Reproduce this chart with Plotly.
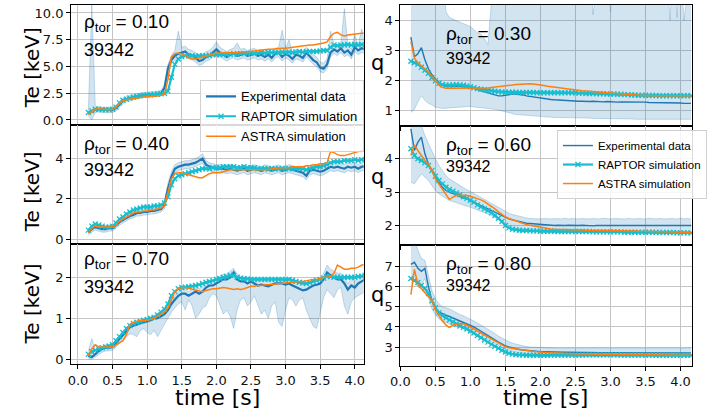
import plotly.graph_objects as go

# ---------------- data ----------------
time_s = [0.15, 0.2, 0.25, 0.3, 0.35, 0.4, 0.45, 0.5, 0.55, 0.6,
          0.65, 0.7, 0.75, 0.8, 0.85, 0.9, 0.95, 1.0, 1.05, 1.1,
          1.15, 1.2, 1.25, 1.3, 1.35, 1.4, 1.45, 1.5, 1.55, 1.6,
          1.65, 1.7, 1.75, 1.8, 1.85, 1.9, 1.95, 2.0, 2.05, 2.1,
          2.15, 2.2, 2.25, 2.3, 2.35, 2.4, 2.45, 2.5, 2.55, 2.6,
          2.65, 2.7, 2.75, 2.8, 2.85, 2.9, 2.95, 3.0, 3.05, 3.1,
          3.15, 3.2, 3.25, 3.3, 3.35, 3.4, 3.45, 3.5, 3.55, 3.6,
          3.65, 3.7, 3.75, 3.8, 3.85, 3.9, 3.95, 4.0, 4.05, 4.1,
          4.15]

# Te at rho_tor = 0.10 [keV]
te010_exp = [0.6, 0.75, 0.95, 1.0, 0.95, 0.95, 0.95, 0.95, 1.1, 1.5,
             1.8, 1.95, 2.0, 2.1, 2.2, 2.3, 2.35, 2.35, 2.4, 2.4,
             2.45, 2.5, 3.0, 4.8, 5.6, 6.0, 6.2, 6.3, 6.4, 6.1,
             6.0, 5.8, 5.5, 5.6, 5.9, 6.0, 6.3, 6.6, 6.3, 6.1,
             5.9, 6.1, 6.2, 6.0, 6.1, 6.2, 6.0, 6.1, 6.2, 6.0,
             6.1, 5.9, 6.1, 5.8, 6.2, 6.3, 5.9, 6.2, 6.0, 5.7,
             6.1, 6.0, 5.8, 6.3, 5.9, 5.6, 5.4, 4.9, 4.8, 5.2,
             6.3, 6.6, 6.4, 6.7, 6.3, 6.5, 6.1, 6.8, 6.5, 6.7,
             6.6]
te010_lo = [0.35, 0.0, 0.7, 0.75, 0.7, 0.7, 0.7, 0.7, 0.85, 1.25,
            1.55, 1.7, 1.8, 1.9, 2.0, 2.1, 2.15, 2.15, 2.2, 2.2,
            2.25, 2.3, 2.7, 4.3, 5.2, 5.6, 5.8, 5.9, 6.0, 5.7,
            5.6, 5.4, 5.1, 5.2, 5.5, 5.6, 5.9, 6.1, 5.9, 5.7,
            5.5, 5.7, 5.8, 5.6, 5.7, 5.8, 5.6, 5.7, 5.8, 5.6,
            5.7, 5.5, 5.7, 5.4, 5.8, 5.9, 5.5, 5.8, 5.6, 5.3,
            5.7, 5.6, 5.4, 5.9, 5.5, 5.2, 5.0, 4.5, 4.4, 4.8,
            5.9, 6.2, 6.0, 6.3, 5.9, 6.1, 5.7, 6.4, 6.1, 6.3,
            6.2]
te010_hi = [0.9, 10.8, 1.2, 1.25, 1.2, 1.2, 1.2, 1.2, 1.35, 1.75,
            2.05, 2.2, 2.25, 2.35, 2.45, 2.55, 2.6, 2.6, 2.65, 2.65,
            2.7, 2.75, 3.3, 5.2, 6.0, 6.5, 8.3, 6.8, 6.9, 6.6,
            6.5, 6.3, 6.0, 6.1, 6.4, 6.5, 6.8, 7.3, 6.8, 6.6,
            6.4, 6.6, 6.7, 7.2, 6.6, 6.7, 6.5, 6.6, 6.7, 6.5,
            6.6, 6.4, 6.6, 6.3, 6.7, 6.8, 8.4, 6.7, 7.5, 6.2,
            6.6, 6.5, 6.3, 6.8, 6.4, 6.1, 5.9, 5.4, 5.3, 5.7,
            8.3, 7.1, 6.9, 7.2, 10.4, 7.0, 6.6, 8.0, 7.0, 8.5,
            7.1]
te010_raptor = [0.7, 0.85, 1.0, 1.0, 0.95, 0.95, 0.95, 1.0, 1.2, 1.6,
                1.85, 1.95, 2.05, 2.15, 2.2, 2.25, 2.3, 2.35, 2.35, 2.4,
                2.4, 2.45, 2.5, 2.7, 4.0, 5.2, 5.7, 5.9, 6.0, 6.0,
                6.0, 5.95, 6.0, 6.0, 6.0, 6.05, 6.1, 6.1, 6.1, 6.15,
                6.1, 6.15, 6.2, 6.15, 6.2, 6.2, 6.2, 6.25, 6.2, 6.25,
                6.3, 6.25, 6.3, 6.3, 6.3, 6.3, 6.35, 6.3, 6.35, 6.3,
                6.35, 6.4, 6.35, 6.4, 6.4, 6.4, 6.4, 6.45, 6.5, 6.5,
                6.8, 7.0, 6.95, 7.0, 7.0, 7.05, 7.0, 7.05, 7.0, 7.05,
                7.0]
te010_astra = [0.5, 0.75, 1.0, 1.05, 1.0, 0.95, 0.95, 1.0, 1.2, 1.55,
               1.8, 1.9, 1.95, 2.05, 2.1, 2.15, 2.15, 2.2, 2.2, 2.2,
               2.25, 2.3, 2.4, 3.8, 5.9, 6.2, 6.25, 6.2, 6.0, 5.8,
               5.7, 5.7, 5.8, 5.9, 6.0, 6.1, 6.2, 6.25, 6.25, 6.25,
               6.25, 6.25, 6.3, 6.3, 6.35, 6.35, 6.4, 6.4, 6.45, 6.5,
               6.5, 6.55, 6.6, 6.6, 6.65, 6.65, 6.7, 6.7, 6.75, 6.8,
               6.85, 6.9, 6.9, 6.95, 7.0, 7.0, 7.05, 7.1, 7.2, 7.3,
               7.8, 8.1, 8.2, 7.95, 7.85, 7.95, 8.0, 8.05, 8.05, 8.1,
               8.1]

# Te at rho_tor = 0.40 [keV]
te040_exp = [0.35, 0.5, 0.6, 0.55, 0.5, 0.5, 0.55, 0.55, 0.7, 0.85,
             0.95, 1.05, 1.15, 1.2, 1.3, 1.3, 1.35, 1.35, 1.4, 1.4,
             1.45, 1.5, 1.7, 2.5, 3.1, 3.5, 3.6, 3.65, 3.7, 3.7,
             3.75, 3.8, 3.9, 4.0, 3.7, 3.6, 3.55, 3.5, 3.5, 3.5,
             3.45, 3.5, 3.45, 3.4, 3.45, 3.5, 3.4, 3.45, 3.5, 3.45,
             3.4, 3.5, 3.45, 3.4, 3.45, 3.5, 3.4, 3.45, 3.5, 3.45,
             3.4, 3.35, 3.3, 3.15, 3.4, 3.45, 3.4, 3.35, 3.4, 3.5,
             3.6, 3.55, 3.6, 3.55, 3.5, 3.6, 3.55, 3.6, 3.5, 3.6,
             3.6]
te040_lo = [0.2, 0.35, 0.45, 0.4, 0.35, 0.35, 0.4, 0.4, 0.55, 0.7,
            0.8, 0.9, 1.0, 1.05, 1.15, 1.15, 1.2, 1.2, 1.25, 1.25,
            1.3, 1.35, 1.5, 2.2, 2.85, 3.3, 3.4, 3.45, 3.5, 3.5,
            3.55, 3.6, 3.7, 3.75, 3.5, 3.4, 3.35, 3.3, 3.3, 3.3,
            3.25, 3.3, 3.25, 3.2, 3.25, 3.3, 3.2, 3.25, 3.3, 3.25,
            3.2, 3.3, 3.25, 3.2, 3.25, 3.3, 3.2, 3.25, 3.3, 3.25,
            3.2, 3.15, 3.1, 2.95, 3.2, 3.25, 3.2, 3.15, 3.2, 3.3,
            3.4, 3.35, 3.4, 3.35, 3.3, 3.4, 3.35, 3.4, 3.3, 3.4,
            3.4]
te040_hi = [0.5, 0.65, 0.75, 0.7, 0.65, 0.65, 0.7, 0.7, 0.85, 1.0,
            1.1, 1.2, 1.3, 1.35, 1.45, 1.45, 1.5, 1.5, 1.55, 1.55,
            1.6, 1.65, 1.9, 2.8, 3.35, 3.7, 3.8, 3.85, 3.9, 3.9,
            3.95, 4.0, 4.1, 4.25, 3.9, 3.8, 3.75, 3.7, 3.7, 3.7,
            3.65, 3.7, 3.65, 3.6, 3.65, 3.7, 3.6, 3.65, 3.7, 3.65,
            3.6, 3.7, 3.65, 3.6, 3.65, 3.7, 3.6, 3.65, 3.7, 3.65,
            3.6, 3.55, 3.5, 3.35, 3.6, 3.65, 3.6, 3.55, 3.6, 3.7,
            3.8, 3.75, 3.8, 3.75, 3.7, 3.8, 3.75, 3.8, 3.7, 3.8,
            3.8]
te040_raptor = [0.45, 0.65, 0.75, 0.7, 0.65, 0.6, 0.6, 0.65, 0.8, 1.0,
                1.1, 1.25, 1.35, 1.45, 1.5, 1.55, 1.6, 1.6, 1.6, 1.65,
                1.65, 1.7, 1.8, 2.1, 2.7, 3.0, 3.15, 3.2, 3.25, 3.3,
                3.35, 3.4, 3.45, 3.5, 3.5, 3.5, 3.55, 3.55, 3.55, 3.6,
                3.6, 3.6, 3.6, 3.55, 3.55, 3.6, 3.55, 3.55, 3.55, 3.5,
                3.5, 3.5, 3.5, 3.5, 3.5, 3.5, 3.5, 3.5, 3.5, 3.5,
                3.5, 3.5, 3.5, 3.45, 3.5, 3.55, 3.6, 3.6, 3.65, 3.7,
                3.8, 3.85, 3.85, 3.85, 3.9, 3.9, 3.9, 3.95, 3.9, 3.95,
                3.95]
te040_astra = [0.3, 0.55, 0.65, 0.6, 0.6, 0.6, 0.6, 0.6, 0.7, 0.9,
               1.0, 1.1, 1.2, 1.3, 1.35, 1.35, 1.4, 1.4, 1.45, 1.45,
               1.5, 1.55, 1.65, 2.4, 3.0, 3.25, 3.3, 3.3, 3.25, 3.2,
               3.15, 3.1, 3.05, 3.05, 3.15, 3.25, 3.3, 3.3, 3.3, 3.35,
               3.4, 3.45, 3.45, 3.45, 3.45, 3.45, 3.45, 3.45, 3.45, 3.45,
               3.45, 3.45, 3.45, 3.5, 3.5, 3.55, 3.55, 3.55, 3.55, 3.6,
               3.6, 3.6, 3.6, 3.65, 3.65, 3.7, 3.7, 3.75, 3.75, 3.8,
               4.35, 4.3, 4.2, 4.15, 4.15, 4.2, 4.25, 4.3, 4.35, 4.4,
               4.4]

# Te at rho_tor = 0.70 [keV]
te070_exp = [0.08, 0.05, 0.12, 0.2, 0.25, 0.28, 0.28, 0.3, 0.4, 0.5,
             0.6, 0.7, 0.78, 0.82, 0.85, 0.88, 0.9, 0.92, 0.95, 1.0,
             1.0, 1.05, 1.1, 1.2, 1.35, 1.45, 1.55, 1.6, 1.6, 1.55,
             1.6, 1.65, 1.6, 1.65, 1.75, 1.8, 1.8, 1.85, 1.9, 1.95,
             1.95, 2.0, 2.12, 1.95, 1.9, 1.9, 1.85, 1.9, 1.85, 1.8,
             1.82, 1.8, 1.78, 1.82, 1.85, 1.85, 1.85, 1.82, 1.85, 1.8,
             1.75, 1.72, 1.68, 1.7, 1.75, 1.8, 1.82, 1.85, 1.95, 2.12,
             2.05, 2.0, 1.95, 1.95, 1.85, 1.7, 1.8, 1.75, 1.85, 1.9,
             1.95]
te070_lo = [0.0, 0.0, 0.05, 0.12, 0.17, 0.2, 0.2, 0.22, 0.3, 0.38,
            0.45, 0.55, 0.62, 0.6, 0.55, 0.7, 0.75, 0.65, 0.6, 0.7,
            0.55, 0.7, 0.85, 1.0, 1.15, 1.25, 1.35, 1.4, 1.2, 1.45,
            1.3, 1.0, 1.1, 1.25, 1.3, 1.5, 1.6, 1.55, 1.3, 1.1,
            1.2, 1.05, 0.75, 1.2, 1.45, 1.5, 1.3, 1.4, 1.55, 1.3,
            1.1, 1.2, 1.0, 1.3, 1.4, 0.9, 0.8, 1.2, 1.5, 1.45,
            1.3, 1.45, 1.5, 1.2, 1.0, 0.8, 0.75, 1.1, 1.5, 1.7,
            1.6, 1.5, 1.7, 1.75, 1.3, 1.1, 1.4, 1.5, 1.55, 1.6,
            1.65]
te070_hi = [0.2, 0.5, 0.2, 0.28, 0.32, 0.35, 0.36, 0.38, 0.48, 0.58,
            0.68, 0.78, 0.86, 0.9, 0.93, 0.96, 0.98, 1.0, 1.03, 1.08,
            1.08, 1.13, 1.18, 1.28, 1.45, 1.55, 1.65, 1.7, 1.7, 1.65,
            1.7, 1.75, 1.72, 1.78, 1.85, 1.92, 1.92, 1.97, 2.02, 2.08,
            2.08, 2.15, 2.22, 2.08, 2.02, 2.0, 1.96, 2.0, 1.95, 1.92,
            1.95, 1.92, 1.9, 1.95, 1.97, 1.97, 1.96, 1.95, 1.97, 1.92,
            1.88, 1.85, 1.82, 1.85, 1.88, 1.92, 1.95, 1.98, 2.1, 2.3,
            2.2, 2.15, 2.1, 2.1, 2.0, 1.85, 1.95, 1.9, 2.0, 2.05,
            2.1]
te070_raptor = [0.12, 0.18, 0.22, 0.25, 0.28, 0.3, 0.32, 0.35, 0.45, 0.55,
                0.65, 0.75, 0.82, 0.87, 0.9, 0.92, 0.95, 0.97, 1.0, 1.02,
                1.08, 1.15, 1.22, 1.35, 1.55, 1.65, 1.72, 1.75, 1.76, 1.77,
                1.78, 1.8, 1.82, 1.85, 1.88, 1.9, 1.92, 1.95, 1.97, 2.0,
                2.02, 2.05, 2.05, 2.0, 1.98, 1.97, 1.96, 1.95, 1.95, 1.95,
                1.95, 1.95, 1.95, 1.95, 1.95, 1.95, 1.95, 1.95, 1.95, 1.93,
                1.9, 1.88, 1.86, 1.85, 1.87, 1.9, 1.93, 1.95, 1.98, 2.02,
                2.02, 2.0, 2.0, 2.0, 2.0, 2.0, 2.0, 2.0, 2.02, 2.03,
                2.05]
te070_astra = [0.1, 0.25, 0.35, 0.3, 0.29, 0.29, 0.29, 0.3, 0.35, 0.4,
               0.45, 0.6, 0.85, 0.9, 0.93, 0.95, 0.95, 0.95, 0.97, 1.0,
               1.05, 1.1, 1.15, 1.25, 1.45, 1.65, 1.72, 1.75, 1.75, 1.73,
               1.72, 1.7, 1.67, 1.65, 1.68, 1.7, 1.72, 1.72, 1.74, 1.75,
               1.74, 1.72, 1.7, 1.72, 1.7, 1.72, 1.75, 1.78, 1.78, 1.8,
               1.8, 1.82, 1.82, 1.83, 1.83, 1.85, 1.85, 1.87, 1.88, 1.88,
               1.9, 1.9, 1.9, 1.92, 1.93, 1.95, 1.95, 1.97, 2.0, 2.0,
               2.02, 2.1, 2.3, 2.25, 2.2, 2.2, 2.22, 2.22, 2.25, 2.3,
               2.3]

# q at rho_tor = 0.30
q030_exp = [3.45, 2.8, 2.9, 3.1, 2.7, 2.4, 2.2, 2.05, 1.95, 1.85,
            1.82, 1.82, 1.83, 1.83, 1.82, 1.8, 1.8, 1.78, 1.75, 1.7,
            1.67, 1.63, 1.6, 1.57, 1.53, 1.5, 1.5, 1.52, 1.55, 1.56,
            1.56, 1.55, 1.53, 1.5, 1.48, 1.46, 1.45, 1.43, 1.42, 1.4,
            1.38, 1.37, 1.36, 1.35, 1.34, 1.34, 1.33, 1.33, 1.32, 1.32,
            1.31, 1.31, 1.32, 1.31, 1.3, 1.3, 1.31, 1.3, 1.3, 1.29,
            1.3, 1.3, 1.31, 1.3, 1.29, 1.3, 1.3, 1.29, 1.28, 1.28,
            1.28, 1.27, 1.28, 1.27, 1.26, 1.26, 1.27, 1.26, 1.25, 1.25,
            1.25]
q030_lo = [0.95, 1.05, 1.3, 1.5, 1.35, 1.25, 1.2, 1.12, 1.1, 1.08,
           1.09, 1.1, 1.11, 1.12, 1.13, 1.15, 1.15, 1.15, 1.13, 1.12,
           1.11, 1.1, 1.08, 1.07, 1.05, 1.03, 1.0, 0.97, 0.93, 0.9,
           0.88, 0.87, 0.86, 0.85, 0.84, 0.83, 0.82, 0.8, 0.8, 0.79,
           0.79, 0.78, 0.78, 0.78, 0.78, 0.77, 0.77, 0.77, 0.77, 0.76,
           0.76, 0.76, 0.75, 0.75, 0.75, 0.75, 0.74, 0.74, 0.74, 0.74,
           0.73, 0.73, 0.73, 0.73, 0.72, 0.72, 0.72, 0.72, 0.72, 0.72,
           0.72, 0.72, 0.72, 0.72, 0.72, 0.72, 0.72, 0.72, 0.72, 0.72,
           0.72]
q030_hi = [6.0, 6.0, 6.0, 6.0, 6.0, 6.0, 6.0, 6.0, 6.0, 6.0,
           4.3, 4.1, 4.05, 4.0, 3.95, 3.9, 3.85, 3.8, 3.7, 3.6,
           3.55, 3.4, 3.2, 6.0, 6.0, 6.0, 6.0, 6.0, 6.0, 6.0,
           6.0, 6.0, 6.0, 6.0, 6.0, 6.0, 6.0, 6.0, 6.0, 6.0,
           6.0, 6.0, 6.0, 6.0, 6.0, 6.0, 6.0, 6.0, 6.0, 6.0,
           6.0, 6.0, 4.2, 6.0, 6.0, 6.0, 6.0, 4.3, 6.0, 6.0,
           6.0, 6.0, 6.0, 6.0, 6.0, 6.0, 6.0, 6.0, 6.0, 6.0,
           6.0, 6.0, 6.0, 6.0, 4.0, 6.0, 4.1, 6.0, 4.0, 6.0,
           6.0]
q030_raptor = [2.65, 2.6, 2.55, 2.45, 2.35, 2.25, 2.1, 2.0, 1.92, 1.87,
               1.85, 1.85, 1.86, 1.87, 1.86, 1.85, 1.83, 1.8, 1.77, 1.74,
               1.72, 1.7, 1.68, 1.66, 1.65, 1.64, 1.63, 1.62, 1.62, 1.62,
               1.62, 1.61, 1.61, 1.61, 1.61, 1.61, 1.6, 1.6, 1.6, 1.6,
               1.6, 1.6, 1.6, 1.6, 1.6, 1.6, 1.6, 1.6, 1.59, 1.59,
               1.58, 1.58, 1.58, 1.57, 1.57, 1.57, 1.56, 1.56, 1.56, 1.55,
               1.55, 1.54, 1.54, 1.53, 1.53, 1.52, 1.52, 1.52, 1.51, 1.51,
               1.51, 1.5, 1.5, 1.5, 1.5, 1.5, 1.5, 1.5, 1.5, 1.5,
               1.5]
q030_astra = [3.3, 2.75, 2.6, 2.5, 2.4, 2.3, 2.15, 2.0, 1.85, 1.78,
              1.75, 1.75, 1.75, 1.75, 1.75, 1.75, 1.75, 1.75, 1.75, 1.75,
              1.75, 1.75, 1.76, 1.78, 1.79, 1.8, 1.82, 1.83, 1.85, 1.86,
              1.88, 1.89, 1.9, 1.9, 1.9, 1.89, 1.88, 1.86, 1.84, 1.82,
              1.8, 1.79, 1.77, 1.76, 1.74, 1.73, 1.71, 1.7, 1.68, 1.67,
              1.66, 1.65, 1.63, 1.62, 1.61, 1.6, 1.59, 1.58, 1.57, 1.56,
              1.56, 1.55, 1.54, 1.53, 1.53, 1.52, 1.51, 1.51, 1.5, 1.5,
              1.5, 1.5, 1.5, 1.5, 1.5, 1.5, 1.5, 1.5, 1.5, 1.5,
              1.5]

# q at rho_tor = 0.60
q060_exp = [4.9, 4.25, 4.5, 4.65, 4.15, 3.85, 3.65, 3.45, 3.3, 3.15,
            3.05, 3.0, 2.95, 2.9, 2.85, 2.82, 2.8, 2.75, 2.7, 2.65,
            2.6, 2.55, 2.5, 2.45, 2.38, 2.33, 2.28, 2.23, 2.2, 2.17,
            2.14, 2.11, 2.09, 2.07, 2.06, 2.05, 2.04, 2.03, 2.02, 2.02,
            2.01, 2.0, 2.01, 2.0, 2.0, 2.01, 2.0, 1.99, 2.0, 2.01,
            2.0, 2.0, 1.99, 2.0, 2.01, 2.0, 2.0, 1.99, 2.0, 2.0,
            2.0, 2.01, 2.0, 1.99, 2.0, 2.0, 1.99, 2.0, 2.0, 2.0,
            1.99, 2.0, 2.0, 1.99, 2.0, 2.0, 1.99, 2.0, 1.99, 2.0,
            2.0]
q060_lo = [3.3, 3.25, 3.4, 3.55, 3.45, 3.35, 3.2, 3.05, 2.95, 2.88,
           2.8, 2.75, 2.72, 2.68, 2.65, 2.62, 2.58, 2.55, 2.51, 2.48,
           2.44, 2.4, 2.35, 2.3, 2.24, 2.18, 2.12, 2.05, 2.0, 1.95,
           1.91, 1.88, 1.86, 1.84, 1.83, 1.82, 1.81, 1.81, 1.8, 1.8,
           1.8, 1.8, 1.8, 1.8, 1.8, 1.8, 1.79, 1.79, 1.79, 1.79,
           1.79, 1.79, 1.79, 1.79, 1.79, 1.79, 1.79, 1.79, 1.78, 1.78,
           1.78, 1.78, 1.78, 1.78, 1.78, 1.78, 1.78, 1.78, 1.78, 1.78,
           1.78, 1.78, 1.78, 1.78, 1.78, 1.78, 1.78, 1.78, 1.78, 1.78,
           1.78]
q060_hi = [5.5, 5.5, 5.2, 5.0, 4.7, 4.45, 4.25, 4.0, 3.8, 3.65,
           3.5, 3.4, 3.33, 3.27, 3.2, 3.13, 3.07, 3.02, 2.96, 2.9,
           2.85, 2.8, 2.74, 2.68, 2.62, 2.55, 2.48, 2.42, 2.37, 2.33,
           2.3, 2.27, 2.25, 2.23, 2.21, 2.2, 2.2, 2.2, 2.21, 2.2,
           2.2, 2.21, 2.2, 2.2, 2.22, 2.2, 2.21, 2.2, 2.2, 2.21,
           2.2, 2.2, 2.21, 2.2, 2.2, 2.22, 2.2, 2.2, 2.21, 2.2,
           2.2, 2.2, 2.21, 2.2, 2.2, 2.21, 2.2, 2.2, 2.22, 2.2,
           2.2, 2.21, 2.2, 2.2, 2.21, 2.2, 2.2, 2.22, 2.2, 2.21,
           2.2]
q060_raptor = [4.3, 4.1, 4.0, 3.95, 3.88, 3.8, 3.65, 3.48, 3.35, 3.25,
               3.15, 3.08, 3.03, 2.98, 2.92, 2.86, 2.82, 2.76, 2.7, 2.62,
               2.56, 2.5, 2.45, 2.38, 2.3, 2.22, 2.12, 2.0, 1.93, 1.89,
               1.87, 1.86, 1.85, 1.85, 1.84, 1.84, 1.84, 1.83, 1.83, 1.83,
               1.83, 1.83, 1.82, 1.82, 1.82, 1.82, 1.82, 1.82, 1.82, 1.82,
               1.82, 1.82, 1.81, 1.81, 1.81, 1.81, 1.81, 1.81, 1.81, 1.81,
               1.81, 1.8, 1.8, 1.8, 1.8, 1.8, 1.8, 1.8, 1.8, 1.8,
               1.79, 1.79, 1.79, 1.79, 1.79, 1.79, 1.78, 1.78, 1.78, 1.78,
               1.78]
q060_astra = [4.1, 4.42, 4.25, 4.1, 3.95, 3.85, 3.65, 3.4, 3.25, 3.1,
              2.95, 2.78, 2.85, 2.9, 2.91, 2.91, 2.9, 2.88, 2.85, 2.81,
              2.77, 2.72, 2.65, 2.58, 2.5, 2.41, 2.33, 2.26, 2.21, 2.17,
              2.13, 2.09, 2.06, 2.03, 2.01, 1.99, 1.96, 1.94, 1.92, 1.91,
              1.9, 1.89, 1.89, 1.88, 1.88, 1.88, 1.87, 1.87, 1.87, 1.87,
              1.86, 1.86, 1.86, 1.86, 1.86, 1.85, 1.85, 1.85, 1.85, 1.85,
              1.84, 1.84, 1.84, 1.84, 1.84, 1.83, 1.83, 1.83, 1.83, 1.82,
              1.82, 1.82, 1.82, 1.81, 1.81, 1.81, 1.81, 1.8, 1.8, 1.8,
              1.8]

# q at rho_tor = 0.80
q080_exp = [7.1, 7.2, 6.9, 6.75, 6.9, 6.0, 5.3, 4.95, 4.75, 4.65,
            4.58, 4.52, 4.45, 4.38, 4.3, 4.23, 4.17, 4.1, 4.0, 3.9,
            3.8, 3.7, 3.58, 3.47, 3.36, 3.25, 3.15, 3.07, 3.01, 2.96,
            2.92, 2.89, 2.86, 2.84, 2.82, 2.8, 2.79, 2.78, 2.78, 2.77,
            2.77, 2.76, 2.76, 2.75, 2.75, 2.75, 2.74, 2.74, 2.74, 2.74,
            2.74, 2.73, 2.73, 2.73, 2.73, 2.73, 2.73, 2.73, 2.73, 2.73,
            2.73, 2.73, 2.73, 2.73, 2.73, 2.73, 2.73, 2.73, 2.73, 2.73,
            2.72, 2.72, 2.72, 2.72, 2.72, 2.72, 2.72, 2.72, 2.72, 2.72,
            2.72]
q080_lo = [6.3, 6.3, 6.0, 6.1, 6.4, 5.5, 4.9, 4.6, 4.4, 4.3,
           4.22, 4.15, 4.1, 4.05, 3.98, 3.9, 3.85, 3.8, 3.7, 3.6,
           3.52, 3.45, 3.35, 3.25, 3.15, 3.05, 2.96, 2.88, 2.82, 2.78,
           2.75, 2.72, 2.7, 2.68, 2.66, 2.65, 2.64, 2.63, 2.62, 2.61,
           2.6, 2.6, 2.59, 2.59, 2.58, 2.58, 2.58, 2.58, 2.58, 2.57,
           2.57, 2.57, 2.57, 2.57, 2.57, 2.57, 2.57, 2.57, 2.57, 2.57,
           2.56, 2.56, 2.56, 2.56, 2.56, 2.56, 2.56, 2.56, 2.56, 2.56,
           2.55, 2.55, 2.55, 2.55, 2.55, 2.55, 2.55, 2.55, 2.55, 2.55,
           2.55]
q080_hi = [8.5, 8.3, 7.8, 7.4, 7.3, 6.5, 5.8, 5.4, 5.15, 5.0,
           4.95, 4.9, 4.8, 4.7, 4.62, 4.55, 4.48, 4.4, 4.3, 4.2,
           4.1, 4.0, 3.9, 3.8, 3.68, 3.55, 3.45, 3.35, 3.27, 3.2,
           3.15, 3.1, 3.06, 3.03, 3.01, 3.0, 2.98, 2.97, 2.97, 2.96,
           2.96, 2.96, 2.95, 2.95, 2.95, 2.95, 2.95, 2.95, 2.95, 2.95,
           2.95, 2.95, 2.95, 2.95, 2.95, 2.95, 2.95, 2.95, 2.95, 2.95,
           2.95, 2.95, 2.95, 2.95, 2.95, 2.95, 2.95, 2.95, 2.95, 2.95,
           2.95, 2.95, 2.95, 2.95, 2.95, 2.95, 2.95, 2.95, 2.95, 2.95,
           2.95]
q080_raptor = [6.4, 6.3, 6.2, 6.05, 5.9, 5.65, 5.3, 4.95, 4.7, 4.55,
               4.45, 4.35, 4.25, 4.15, 4.05, 3.98, 3.9, 3.8, 3.7, 3.58,
               3.47, 3.36, 3.25, 3.14, 3.04, 2.95, 2.85, 2.76, 2.7, 2.66,
               2.63, 2.62, 2.61, 2.6, 2.6, 2.6, 2.6, 2.6, 2.6, 2.6,
               2.61, 2.61, 2.61, 2.61, 2.61, 2.61, 2.61, 2.61, 2.61, 2.61,
               2.62, 2.62, 2.62, 2.62, 2.62, 2.62, 2.62, 2.62, 2.62, 2.62,
               2.61, 2.61, 2.61, 2.61, 2.61, 2.61, 2.61, 2.61, 2.61, 2.61,
               2.6, 2.6, 2.6, 2.6, 2.6, 2.6, 2.6, 2.6, 2.6, 2.6,
               2.6]
q080_astra = [5.6, 6.85, 6.1, 5.9, 5.75, 5.5, 5.3, 4.85, 4.55, 4.3,
              4.1, 3.97, 4.1, 4.15, 4.17, 4.16, 4.1, 4.0, 3.9, 3.8,
              3.72, 3.62, 3.5, 3.4, 3.3, 3.2, 3.1, 3.02, 2.97, 2.94,
              2.91, 2.88, 2.85, 2.83, 2.81, 2.79, 2.77, 2.75, 2.74, 2.73,
              2.72, 2.71, 2.7, 2.69, 2.68, 2.67, 2.67, 2.66, 2.66, 2.66,
              2.66, 2.65, 2.65, 2.65, 2.65, 2.65, 2.65, 2.65, 2.65, 2.65,
              2.65, 2.65, 2.65, 2.65, 2.65, 2.65, 2.65, 2.65, 2.65, 2.65,
              2.64, 2.63, 2.63, 2.62, 2.62, 2.61, 2.61, 2.6, 2.6, 2.6,
              2.6]

x_tick_vals = [0.0, 0.5, 1.0, 1.5, 2.0, 2.5, 3.0, 3.5, 4.0]
x_tick_text = ["0.0", "0.5", "1.0", "1.5", "2.0", "2.5", "3.0", "3.5", "4.0"]
panel_labels = ["0.10", "0.40", "0.70", "0.30", "0.60", "0.80"]
shot_label = "39342"
series_names = ["Experimental data", "RAPTOR simulation", "ASTRA simulation"]

# ---------------- styling / layout ----------------
W, H = 707, 412
EXP_C = "#1f77b4"
RAP_C = "#17becf"
AST_C = "#ff7f0e"
BAND_FILL = "rgba(31,119,180,0.20)"
BAND_LINE = "rgba(31,119,180,0.30)"


def xdom(a, b):
    return [max(0.0, a / W), min(1.0, b / W)]


def ydom(top, bottom):
    return [1 - bottom / H, 1 - top / H]


panels = [
    dict(k=1, d=(te010_exp, te010_lo, te010_hi, te010_raptor, te010_astra),
         xd=(63.3, 366.7), yd=(5, 125.5), xr=[-0.1, 4.13], yr=[-0.43, 10.75],
         yt=[0, 2.5, 5, 7.5, 10], ytt=["0.0", "2.5", "5.0", "7.5", "10.0"],
         leg="legend", show=True, ew=2.2, bottom=False),
    dict(k=2, d=(te040_exp, te040_lo, te040_hi, te040_raptor, te040_astra),
         xd=(63.3, 366.7), yd=(125.5, 246), xr=[-0.1, 4.13], yr=[-0.25, 5.69],
         yt=[0, 2, 4], ytt=["0", "2", "4"], leg="legend", show=False, ew=2.2, bottom=False),
    dict(k=3, d=(te070_exp, te070_lo, te070_hi, te070_raptor, te070_astra),
         xd=(63.3, 366.7), yd=(246, 366.7), xr=[-0.1, 4.13], yr=[-0.12, 2.81],
         yt=[0, 1, 2], ytt=["0", "1", "2"], leg="legend", show=False, ew=2.2, bottom=True),
    dict(k=4, d=(q030_exp, q030_lo, q030_hi, q030_raptor, q030_astra),
         xd=(404.7, 707), xr=[0, 4.164], yd=(5, 126.7), yr=[0.505, 4.52],
         yt=[1, 2, 3, 4], ytt=["1", "2", "3", "4"], leg="legend2", show=False, ew=1.4, bottom=False),
    dict(k=5, d=(q060_exp, q060_lo, q060_hi, q060_raptor, q060_astra),
         xd=(404.7, 707), xr=[0, 4.164], yd=(126.7, 246.7), yr=[1.42, 4.99],
         yt=[2, 3, 4], ytt=["2", "3", "4"], leg="legend2", show=True, ew=1.4, bottom=False),
    dict(k=6, d=(q080_exp, q080_lo, q080_hi, q080_raptor, q080_astra),
         xd=(404.7, 707), xr=[0, 4.164], yd=(246.7, 368.3), yr=[2.09, 8.06],
         yt=[3, 4, 5, 6, 7], ytt=["3", "4", "5", "6", "7"], leg="legend2", show=False, ew=1.4, bottom=True),
]

fig = go.Figure()
layout_axes = {}
tickfont = dict(family="DejaVu Sans", size=13, color="#111")

for p in panels:
    k = p["k"]
    xa = "x" if k == 1 else f"x{k}"
    ya = "y" if k == 1 else f"y{k}"
    exp, lo, hi, rap, ast = p["d"]
    fig.add_trace(go.Scatter(x=time_s, y=lo, xaxis=xa, yaxis=ya, mode="lines",
                             line=dict(color=BAND_LINE, width=0.8), showlegend=False,
                             hoverinfo="skip"))
    fig.add_trace(go.Scatter(x=time_s, y=hi, xaxis=xa, yaxis=ya, mode="lines",
                             line=dict(color=BAND_LINE, width=0.8), fill="tonexty",
                             fillcolor=BAND_FILL, showlegend=False, hoverinfo="skip"))
    fig.add_trace(go.Scatter(x=time_s, y=exp, xaxis=xa, yaxis=ya, mode="lines",
                             line=dict(color=EXP_C, width=p["ew"]), name=series_names[0],
                             legend=p["leg"], showlegend=p["show"]))
    fig.add_trace(go.Scatter(x=time_s, y=rap, xaxis=xa, yaxis=ya, mode="lines+markers",
                             line=dict(color=RAP_C, width=2.2),
                             marker=dict(symbol="x-thin", size=5, color=RAP_C,
                                         line=dict(width=1.3, color=RAP_C)),
                             name=series_names[1], legend=p["leg"], showlegend=p["show"]))
    fig.add_trace(go.Scatter(x=time_s, y=ast, xaxis=xa, yaxis=ya, mode="lines",
                             line=dict(color=AST_C, width=1.5), name=series_names[2],
                             legend=p["leg"], showlegend=p["show"]))

    xkey = "xaxis" if k == 1 else f"xaxis{k}"
    ykey = "yaxis" if k == 1 else f"yaxis{k}"
    layout_axes[xkey] = dict(domain=xdom(*p["xd"]), range=p["xr"], anchor=ya,
                             tickvals=x_tick_vals, ticktext=x_tick_text,
                             showticklabels=p["bottom"], tickfont=tickfont,
                             showline=True, linecolor="black", linewidth=1, mirror=True,
                             ticks="outside", ticklen=4, tickcolor="black",
                             showgrid=True, gridcolor="#c4c4c4", gridwidth=1,
                             zeroline=False)
    layout_axes[ykey] = dict(domain=ydom(*p["yd"]), range=p["yr"], anchor=xa,
                             tickvals=p["yt"], ticktext=p["ytt"], tickfont=tickfont,
                             showline=True, linecolor="black", linewidth=1, mirror=True,
                             ticks="outside", ticklen=4, tickcolor="black",
                             showgrid=True, gridcolor="#c4c4c4", gridwidth=1,
                             zeroline=False)

annotations = []
lab_font = dict(family="Liberation Sans", size=19, color="black")
rho_pos = [(75, 23, 50, 18), (75, 146, 171, 18), (75, 262, 289, 18),
           (450, 35, 59, 16), (450, 147, 168, 16), (450, 267, 288, 16)]
for lbl, (x0, yr, ys, fs) in zip(panel_labels, rho_pos):
    annotations.append(dict(xref="paper", yref="paper", x=x0 / W, y=1 - yr / H,
                            xanchor="left", yanchor="middle", showarrow=False,
                            text=f"ρ<sub>tor</sub> = {lbl}", font=lab_font))
    annotations.append(dict(xref="paper", yref="paper", x=x0 / W, y=1 - ys / H,
                            xanchor="left", yanchor="middle", showarrow=False,
                            text=shot_label, font=dict(family="Liberation Sans", size=fs, color="black")))

for yc in (68, 193, 306):
    annotations.append(dict(xref="paper", yref="paper", x=22.5 / W, y=1 - yc / H,
                            xanchor="center", yanchor="middle", showarrow=False,
                            textangle=-90, text="Te [keV]",
                            font=dict(family="DejaVu Sans", size=20, color="black")))
for yc in (63, 178, 297):
    annotations.append(dict(xref="paper", yref="paper", x=381 / W, y=1 - yc / H,
                            xanchor="center", yanchor="middle", showarrow=False,
                            text="q", font=dict(family="DejaVu Sans", size=21, color="black")))
for xc in (215, 555):
    annotations.append(dict(xref="paper", yref="paper", x=xc / W, y=1 - 400 / H,
                            xanchor="center", yanchor="middle", showarrow=False,
                            text="time [s]", font=dict(family="DejaVu Sans", size=22, color="black")))

fig.update_layout(
    width=W, height=H, margin=dict(l=0, r=0, t=0, b=0),
    paper_bgcolor="white", plot_bgcolor="white",
    annotations=annotations,
    legend=dict(x=197 / W, y=1 - 81 / H, xanchor="left", yanchor="top",
                bgcolor="rgba(255,255,255,0.85)", bordercolor="#d0d0d0", borderwidth=1,
                font=dict(family="Liberation Sans", size=13, color="black"),
                tracegroupgap=0, itemwidth=30, traceorder="normal"),
    legend2=dict(x=567 / W, y=1 - 131 / H, xanchor="left", yanchor="top",
                 bgcolor="rgba(255,255,255,0.85)", bordercolor="#d0d0d0", borderwidth=1,
                 font=dict(family="Liberation Sans", size=11.5, color="black"),
                 tracegroupgap=0, itemwidth=30, traceorder="normal"),
    showlegend=True,
    **layout_axes,
)

fig.write_html("out.html")
